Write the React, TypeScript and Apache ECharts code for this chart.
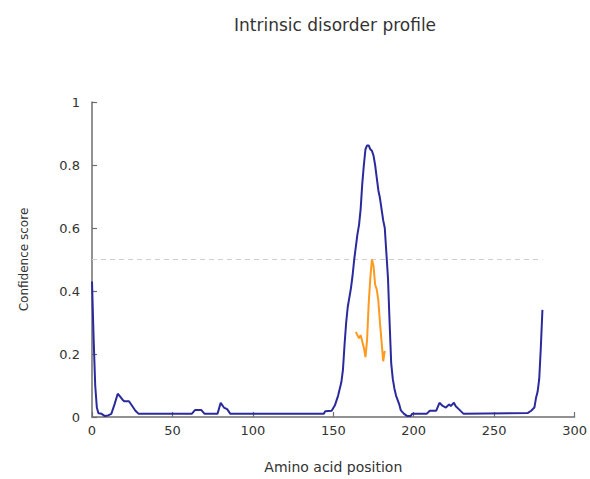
import React, { useEffect, useRef } from "react";
import * as echarts from "echarts";

const xTicks = [0, 50, 100, 150, 200, 250, 300];
const yTicks = [0, 0.2, 0.4, 0.6, 0.8, 1];

const disorderProfile: [number, number][] = [
  [0, 0.43], [1, 0.25], [2, 0.1], [3, 0.03], [4, 0.012], [6, 0.01], [8, 0.003], [10, 0.005],
  [12, 0.01], [14, 0.04], [16, 0.074], [17, 0.068], [19, 0.055], [20, 0.05], [23, 0.05],
  [25, 0.035], [27, 0.02], [29, 0.01], [62, 0.01], [64, 0.022], [68, 0.022], [70, 0.01],
  [78, 0.01], [80, 0.045], [82, 0.03], [84, 0.025], [86, 0.01], [144, 0.01], [145, 0.018],
  [149, 0.02], [151, 0.037], [153, 0.068], [155, 0.11], [156, 0.15], [157, 0.23], [158, 0.3],
  [159, 0.35], [160, 0.38], [161, 0.41], [162, 0.45], [163, 0.5], [164, 0.54], [165, 0.58],
  [166, 0.61], [167, 0.66], [168, 0.74], [169, 0.8], [170, 0.85], [171, 0.862], [172, 0.862],
  [173, 0.85], [174, 0.845], [175, 0.83], [176, 0.8], [177, 0.76], [178, 0.72], [179, 0.695],
  [180, 0.66], [181, 0.625], [182, 0.6], [183, 0.52], [184, 0.44], [185, 0.3], [186, 0.17],
  [187, 0.12], [188, 0.09], [189, 0.068], [191, 0.04], [192, 0.021], [194, 0.01], [196, 0.003],
  [198, 0.003], [199, 0.01], [208, 0.01], [210, 0.02], [214, 0.02], [216, 0.045], [218, 0.035],
  [220, 0.03], [222, 0.04], [223, 0.035], [225, 0.045], [226, 0.035], [228, 0.025], [231, 0.01],
  [271, 0.013], [273, 0.02], [275, 0.03], [276, 0.06], [277, 0.08], [278, 0.12], [279, 0.22],
  [280, 0.34],
];

const bindingRegion: [number, number][] = [
  [164, 0.27], [165, 0.26], [166, 0.25], [167, 0.26], [168, 0.24], [169, 0.22], [170, 0.19],
  [171, 0.245], [172, 0.36], [173, 0.44], [174, 0.5], [175, 0.48], [176, 0.42], [177, 0.405],
  [178, 0.37], [179, 0.3], [180, 0.24], [181, 0.177], [182, 0.21],
];

const thresholdLine: [number, number][] = [
  [0, 0.5], [280, 0.5],
];

const FONT = "'DejaVu Sans', sans-serif";

export default function App() {
  const ref = useRef<HTMLDivElement>(null);
  useEffect(() => {
    if (!ref.current) return;
    const chart = echarts.init(ref.current, undefined, { renderer: "svg" });
    const axisColor = "#6e6e6e";
    chart.setOption({
      animation: false,
      backgroundColor: "#ffffff",
      title: {
        text: "Intrinsic disorder profile",
        left: 229,
        top: 11,
        textStyle: { fontFamily: FONT, fontSize: 17, fontWeight: "normal", color: "#333333" },
      },
      grid: { left: 92, right: 15, top: 102, bottom: 57 },
      xAxis: {
        type: "value",
        min: xTicks[0],
        max: xTicks[xTicks.length - 1],
        interval: 50,
        name: "Amino acid position",
        nameLocation: "middle",
        nameGap: 43,
        nameTextStyle: { fontFamily: FONT, fontSize: 14, color: "#333333" },
        axisLine: { show: true, lineStyle: { color: axisColor, width: 1.5 } },
        axisTick: { show: true, inside: true, length: 5, lineStyle: { color: axisColor, width: 1.2 } },
        axisLabel: {
          fontFamily: FONT, fontSize: 13, color: "#333333", margin: 7,
          formatter: (v: number) => (xTicks.includes(v) ? String(v) : ""),
        },
        splitLine: { show: false },
      },
      yAxis: {
        type: "value",
        min: yTicks[0],
        max: yTicks[yTicks.length - 1],
        interval: 0.2,
        name: "Confidence score",
        nameLocation: "middle",
        nameRotate: 90,
        nameGap: 62,
        nameTextStyle: { fontFamily: FONT, fontSize: 12, color: "#333333" },
        axisLine: { show: true, lineStyle: { color: axisColor, width: 1.5 } },
        axisTick: { show: true, inside: true, length: 5, lineStyle: { color: axisColor, width: 1.2 } },
        axisLabel: {
          fontFamily: FONT, fontSize: 13, color: "#333333", margin: 12,
          formatter: (v: number) => (Math.abs(v - 1) < 1e-9 ? "1" : v === 0 ? "0" : String(Math.round(v * 10) / 10)),
        },
        splitLine: { show: false },
      },
      series: [
        {
          type: "line",
          data: thresholdLine,
          showSymbol: false,
          silent: true,
          lineStyle: { color: "#cfcfcf", width: 1.2, type: [5, 4] },
        },
        {
          type: "line",
          data: disorderProfile,
          showSymbol: false,
          lineStyle: { color: "#2a2a9c", width: 2 },
        },
        {
          type: "line",
          data: bindingRegion,
          showSymbol: false,
          lineStyle: { color: "#ff9a1f", width: 2 },
        },
      ],
    });
    return () => chart.dispose();
  }, []);
  return (
    <div
      ref={ref}
      style={{ position: "fixed", left: 0, top: 0, width: 590, height: 479, background: "#fff" }}
    />
  );
}
